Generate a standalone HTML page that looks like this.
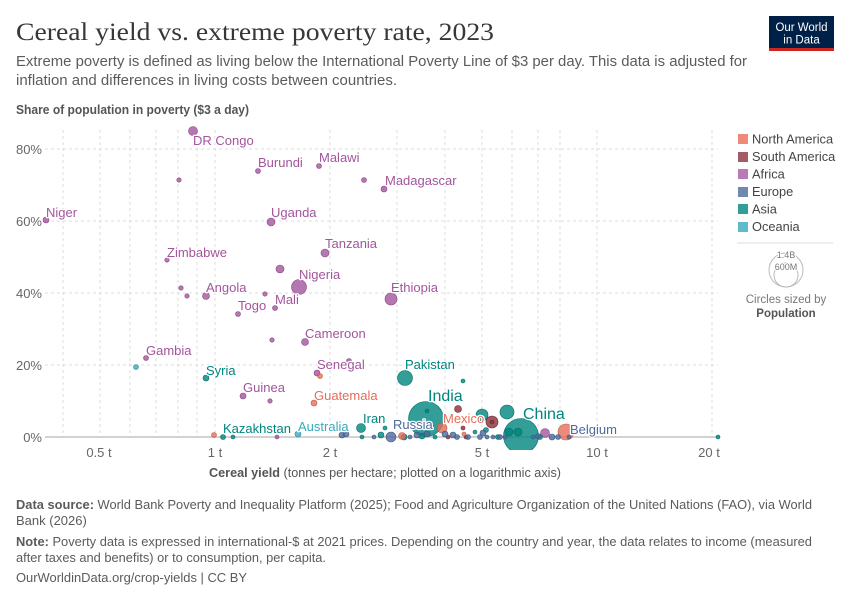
<!DOCTYPE html>
<html><head><meta charset="utf-8">
<style>
html,body{margin:0;padding:0;background:#fff;}
svg{display:block;font-family:"Liberation Sans",sans-serif;}
.lab{font-size:13px;paint-order:stroke;stroke:#fff;stroke-width:2.5px;stroke-linejoin:round;}
.tick{font-size:13px;fill:#666;}
</style></head><body>
<svg width="850" height="600" viewBox="0 0 850 600" xmlns="http://www.w3.org/2000/svg">
<defs><clipPath id="pc"><rect x="40" y="120" width="685" height="330"/></clipPath></defs>
<!-- Header -->
<text x="16" y="40" font-family="Liberation Serif,serif" font-size="25" fill="#373737" textLength="478" lengthAdjust="spacingAndGlyphs">Cereal yield vs. extreme poverty rate, 2023</text>
<text x="16" y="66" font-size="14.5" fill="#5b5b5b" textLength="731" lengthAdjust="spacingAndGlyphs">Extreme poverty is defined as living below the International Poverty Line of $3 per day. This data is adjusted for</text>
<text x="16" y="85" font-size="14.5" fill="#5b5b5b" textLength="381" lengthAdjust="spacingAndGlyphs">inflation and differences in living costs between countries.</text>
<text x="16" y="114" font-size="12.5" font-weight="bold" fill="#555" textLength="233" lengthAdjust="spacingAndGlyphs">Share of population in poverty ($3 a day)</text>
<!-- Logo -->
<rect x="769" y="16" width="65" height="35" fill="#002147"/>
<rect x="769" y="48" width="65" height="3" fill="#ce261e"/>
<text x="801.5" y="31" font-size="11.5" fill="#fff" text-anchor="middle" textLength="52" lengthAdjust="spacingAndGlyphs">Our World</text>
<text x="801.5" y="43.5" font-size="11.5" fill="#fff" text-anchor="middle">in Data</text>
<!-- Grid -->
<g stroke="#dcdcdc" stroke-width="1" stroke-dasharray="3,3">
<line x1="63" y1="130" x2="63" y2="437"/>
<line x1="100" y1="130" x2="100" y2="437"/>
<line x1="130" y1="130" x2="130" y2="437"/>
<line x1="156" y1="130" x2="156" y2="437"/>
<line x1="178" y1="130" x2="178" y2="437"/>
<line x1="197" y1="130" x2="197" y2="437"/>
<line x1="215" y1="130" x2="215" y2="437"/>
<line x1="330" y1="130" x2="330" y2="437"/>
<line x1="397" y1="130" x2="397" y2="437"/>
<line x1="445" y1="130" x2="445" y2="437"/>
<line x1="482" y1="130" x2="482" y2="437"/>
<line x1="512" y1="130" x2="512" y2="437"/>
<line x1="538" y1="130" x2="538" y2="437"/>
<line x1="560" y1="130" x2="560" y2="437"/>
<line x1="597" y1="130" x2="597" y2="437"/>
<line x1="712" y1="130" x2="712" y2="437"/>
<line x1="45" y1="149" x2="718" y2="149"/>
<line x1="45" y1="221" x2="718" y2="221"/>
<line x1="45" y1="293" x2="718" y2="293"/>
<line x1="45" y1="365" x2="718" y2="365"/>
</g>
<line x1="45" y1="437" x2="720" y2="437" stroke="#c4c4c4" stroke-width="1.5"/>
<!-- Y ticks -->
<g class="tick" text-anchor="end">
<text x="42" y="154">80%</text>
<text x="42" y="226">60%</text>
<text x="42" y="298">40%</text>
<text x="42" y="370">20%</text>
<text x="42" y="442">0%</text>
</g>
<!-- X ticks -->
<g class="tick" text-anchor="middle">
<text x="99" y="457">0.5 t</text>
<text x="215" y="457">1 t</text>
<text x="330" y="457">2 t</text>
<text x="482" y="457">5 t</text>
<text x="597" y="457">10 t</text>
<text x="709" y="457">20 t</text>
</g>
<text x="385" y="477" font-size="13" fill="#555" text-anchor="middle" textLength="352" lengthAdjust="spacingAndGlyphs"><tspan font-weight="bold">Cereal yield</tspan> (tonnes per hectare; plotted on a logarithmic axis)</text>
<!-- Points -->
<g clip-path="url(#pc)" stroke-width="0.6">
<!-- Africa -->
<g fill="#a2559c" fill-opacity="0.8" stroke="#8a4585">
<circle cx="193" cy="131" r="4.5"/>
<circle cx="179" cy="180" r="2.2"/>
<circle cx="258" cy="171" r="2.5"/>
<circle cx="319" cy="166" r="2.5"/>
<circle cx="364" cy="180" r="2.5"/>
<circle cx="384" cy="189" r="3"/>
<circle cx="46" cy="220" r="3"/>
<circle cx="271" cy="222" r="4"/>
<circle cx="167" cy="260" r="2.2"/>
<circle cx="325" cy="253" r="4"/>
<circle cx="280" cy="269" r="4"/>
<circle cx="299" cy="287" r="7.5"/>
<circle cx="181" cy="288" r="2.2"/>
<circle cx="187" cy="296" r="2.2"/>
<circle cx="206" cy="296" r="3.5"/>
<circle cx="265" cy="294" r="2.2"/>
<circle cx="275" cy="308" r="2.5"/>
<circle cx="238" cy="314" r="2.5"/>
<circle cx="391" cy="299" r="6"/>
<circle cx="305" cy="342" r="3.5"/>
<circle cx="272" cy="340" r="2.2"/>
<circle cx="146" cy="358" r="2.5"/>
<circle cx="317" cy="373" r="3"/>
<circle cx="349" cy="361" r="2.5"/>
<circle cx="243" cy="396" r="3"/>
<circle cx="270" cy="401" r="2.2"/>
<circle cx="277" cy="437" r="2"/>
<circle cx="545" cy="433" r="4.5"/>
</g>
<!-- Oceania -->
<g fill="#38aaba" fill-opacity="0.8" stroke="#2a8f9e">
<circle cx="136" cy="367" r="2.5"/>
<circle cx="298" cy="434" r="3"/>
</g>
<!-- Asia big -->
<g fill="#00847e" fill-opacity="0.8" stroke="#006d68">
<circle cx="426" cy="419" r="17.5"/>
<circle cx="521" cy="436" r="17.5"/>
<circle cx="405" cy="378" r="7.5"/>
<circle cx="482" cy="415" r="6"/>
<circle cx="507" cy="412" r="7"/>
<circle cx="206" cy="378" r="3"/>
<circle cx="223" cy="437" r="2.5"/>
<circle cx="233" cy="437" r="2"/>
<circle cx="361" cy="428" r="4.5"/>
<circle cx="385" cy="428" r="2"/>
<circle cx="362" cy="437" r="2"/>
<circle cx="463" cy="381" r="2"/>
<circle cx="427" cy="411" r="2"/>
<circle cx="509" cy="432" r="4"/>
<circle cx="518" cy="432" r="4"/>
<circle cx="718" cy="437" r="2"/>
<circle cx="381" cy="435" r="3"/>
<circle cx="404" cy="437" r="3"/>
<circle cx="422" cy="436" r="3"/>
<circle cx="435" cy="437" r="2"/>
<circle cx="475" cy="432" r="2"/>
<circle cx="486" cy="430" r="2.5"/>
<circle cx="498" cy="437" r="2.5"/>
<circle cx="540" cy="437" r="2.5"/>
</g>
<!-- South America -->
<g fill="#883039" fill-opacity="0.8" stroke="#6e2630">
<circle cx="458" cy="409" r="3.5"/>
<circle cx="492" cy="422" r="6"/>
<circle cx="492" cy="422" r="2"/>
<circle cx="448" cy="437" r="2"/>
<circle cx="463" cy="428" r="2"/>
<circle cx="466" cy="437" r="2"/>
</g>
<!-- North America -->
<g fill="#e56e5a" fill-opacity="0.8" stroke="#c95845">
<circle cx="320" cy="376" r="2.5"/>
<circle cx="314" cy="403" r="3"/>
<circle cx="214" cy="435" r="2.5"/>
<circle cx="442" cy="428" r="5"/>
<circle cx="402" cy="436" r="3.5"/>
<circle cx="464" cy="434" r="2"/>
<circle cx="566" cy="432" r="8"/>
</g>
<!-- Europe -->
<g fill="#4c6a9c" fill-opacity="0.8" stroke="#3c5684">
<circle cx="342" cy="435" r="3"/>
<circle cx="346" cy="434" r="3"/>
<circle cx="391" cy="437" r="5"/>
<circle cx="410" cy="437" r="2"/>
<circle cx="417" cy="435" r="3"/>
<circle cx="427" cy="434" r="3"/>
<circle cx="445" cy="434" r="3"/>
<circle cx="453" cy="435" r="3"/>
<circle cx="457" cy="437" r="2.5"/>
<circle cx="468" cy="437" r="2.5"/>
<circle cx="480" cy="437" r="2.5"/>
<circle cx="483" cy="433" r="3"/>
<circle cx="487" cy="437" r="2"/>
<circle cx="493" cy="437" r="2"/>
<circle cx="500" cy="437" r="2.5"/>
<circle cx="505" cy="437" r="2"/>
<circle cx="533" cy="437" r="2"/>
<circle cx="538" cy="436" r="2.5"/>
<circle cx="552" cy="437" r="3"/>
<circle cx="558" cy="437" r="2.5"/>
<circle cx="569" cy="437" r="2"/>
<circle cx="374" cy="437" r="2"/>
</g>
</g>
<!-- Labels -->
<g class="lab" fill="#a2559c">
<text x="193" y="145">DR Congo</text>
<text x="258" y="167">Burundi</text>
<text x="319" y="162">Malawi</text>
<text x="385" y="185">Madagascar</text>
<text x="46" y="217">Niger</text>
<text x="271" y="217">Uganda</text>
<text x="167" y="257">Zimbabwe</text>
<text x="325" y="248">Tanzania</text>
<text x="299" y="279">Nigeria</text>
<text x="206" y="292">Angola</text>
<text x="275" y="304">Mali</text>
<text x="238" y="310">Togo</text>
<text x="391" y="292">Ethiopia</text>
<text x="305" y="338">Cameroon</text>
<text x="146" y="355">Gambia</text>
<text x="317" y="369">Senegal</text>
<text x="243" y="392">Guinea</text>
</g>
<g class="lab" fill="#00847e">
<text x="206" y="375">Syria</text>
<text x="405" y="369">Pakistan</text>
<text x="363" y="423">Iran</text>
<text x="223" y="433">Kazakhstan</text>
<text x="428" y="401" style="font-size:16px">India</text>
<text x="523" y="419" style="font-size:16px">China</text>
</g>
<g class="lab" fill="#e56e5a">
<text x="314" y="400">Guatemala</text>
<text x="443" y="423">Mexico</text>
</g>
<g class="lab" fill="#4c6a9c">
<text x="393" y="429">Russia</text>
<text x="570" y="434">Belgium</text>
</g>
<g class="lab" fill="#38aaba">
<text x="298" y="431">Australia</text>
</g>
<!-- Legend -->
<g font-size="12.8" fill="#444">
<rect x="738" y="134" width="10" height="10" fill="#ef8a78"/><text x="752" y="143.5">North America</text>
<rect x="738" y="152" width="10" height="10" fill="#a65a66"/><text x="752" y="161">South America</text>
<rect x="738" y="169" width="10" height="10" fill="#b97ab5"/><text x="752" y="178.5">Africa</text>
<rect x="738" y="187" width="10" height="10" fill="#7388b0"/><text x="752" y="196">Europe</text>
<rect x="738" y="204" width="10" height="10" fill="#339d98"/><text x="752" y="213.5">Asia</text>
<rect x="738" y="222" width="10" height="10" fill="#60bbc8"/><text x="752" y="231">Oceania</text>
</g>
<line x1="737" y1="243" x2="833" y2="243" stroke="#ddd" stroke-width="1"/>
<circle cx="786" cy="270" r="17" fill="none" stroke="#bbb" stroke-width="1"/>
<circle cx="786" cy="275" r="12" fill="none" stroke="#bbb" stroke-width="1"/>
<text x="786" y="258" font-size="9" fill="#777" text-anchor="middle" paint-order="stroke" stroke="#fff" stroke-width="2">1.4B</text>
<text x="786" y="270" font-size="9" fill="#777" text-anchor="middle" paint-order="stroke" stroke="#fff" stroke-width="2">600M</text>
<text x="786" y="303" font-size="11.5" fill="#777" text-anchor="middle">Circles sized by</text>
<text x="786" y="317" font-size="11.5" font-weight="bold" fill="#555" text-anchor="middle">Population</text>
<!-- Footer -->
<g font-size="13" fill="#5b5b5b">
<text x="16" y="509" textLength="796" lengthAdjust="spacingAndGlyphs"><tspan font-weight="bold">Data source:</tspan> World Bank Poverty and Inequality Platform (2025); Food and Agriculture Organization of the United Nations (FAO), via World</text>
<text x="16" y="525">Bank (2026)</text>
<text x="16" y="546" textLength="796" lengthAdjust="spacingAndGlyphs"><tspan font-weight="bold">Note:</tspan> Poverty data is expressed in international-$ at 2021 prices. Depending on the country and year, the data relates to income (measured</text>
<text x="16" y="562" textLength="310" lengthAdjust="spacingAndGlyphs">after taxes and benefits) or to consumption, per capita.</text>
<text x="16" y="582" textLength="231" lengthAdjust="spacingAndGlyphs">OurWorldinData.org/crop-yields | CC BY</text>
</g>
</svg>
</body></html>
